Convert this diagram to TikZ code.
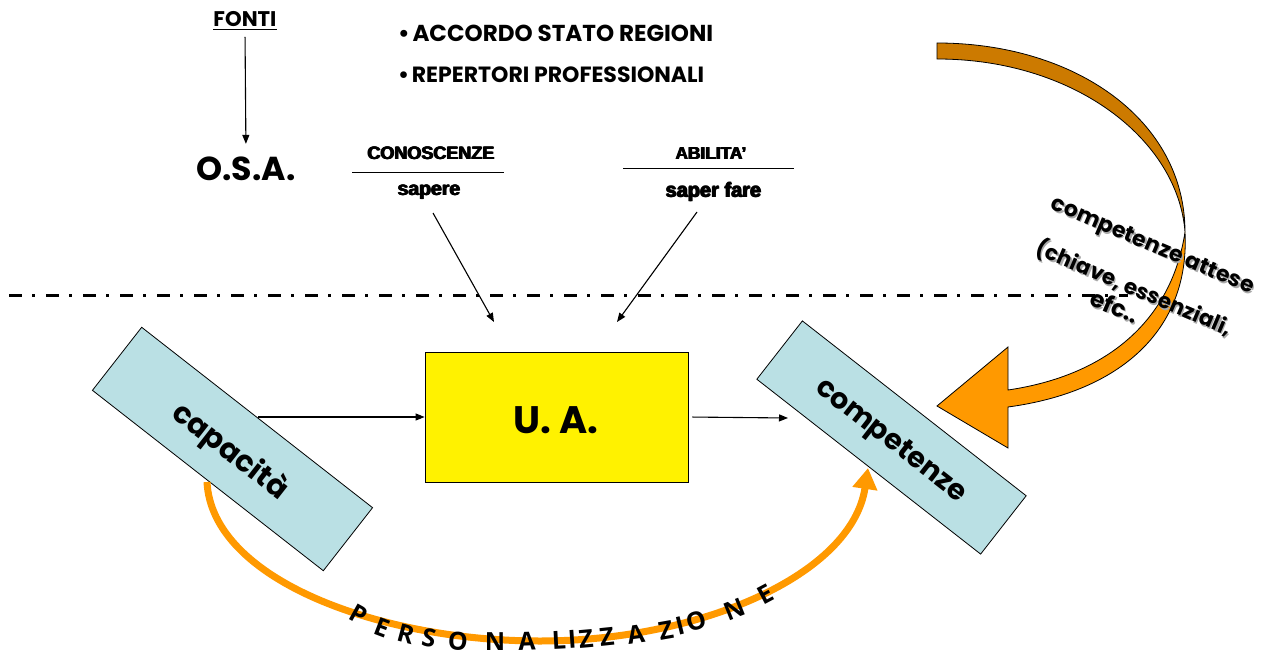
\documentclass[tikz,border=0pt]{standalone}
\usepackage{fontspec}
\setmainfont{Liberation Sans}
\newfontfamily\gothic{Poppins}
\newfontfamily\handf{Open Sans}
\usetikzlibrary{arrows.meta}
\definecolor{boxblue}{RGB}{186,224,228}
\definecolor{orng}{RGB}{255,153,0}
\definecolor{dorng}{RGB}{204,122,0}
\definecolor{shad}{RGB}{170,170,170}
\newcommand\fw[2]{\resizebox{#1pt}{!}{#2}}
\newcommand\heavy[1]{\makebox[0pt][l]{#1}\makebox[0pt][l]{\hspace{0.035em}#1}\makebox[0pt][l]{\raisebox{0.02em}{\hspace{0.035em}#1}}\hspace{0.07em}#1}
\begin{document}
\begin{tikzpicture}[x=1pt,y=-1pt,
  arr/.style={line width=1.1pt,-{Triangle[length=9pt,width=7pt]}},
  tbox/.style={draw=black,line width=0.8pt,fill=boxblue,rotate=-38,inner sep=0pt},
  lbl/.style={inner sep=1pt},
  pl/.style={font=\handf\bfseries\fontsize{25}{25}\selectfont,inner sep=0pt}]
\useasboundingbox (0,0) rectangle (1263,655);
% top texts
\node[lbl] (fonti) at (245,21) {\fw{63}{\gothic\bfseries\underline{FONTI}}};
\node[lbl] (osa) at (246,169) {\fw{99}{\gothic\bfseries O.S.A.}};
\node[lbl,anchor=west] (b1) at (397,33) {\fw{315}{\gothic\bfseries •\hspace{0.12em}ACCORDO STATO REGIONI}};
\node[lbl,anchor=west] (b2) at (397,75) {\fw{306}{\gothic\bfseries •\hspace{0.12em}REPERTORI PROFESSIONALI}};
\node[lbl] (con) at (431,153.5) {\fw{128}{\bfseries\heavy{CONOSCENZE}}};
\node[lbl] (sap) at (429,192) {\fw{64}{\bfseries\heavy{sapere}}};
\node[lbl] (abi) at (711,153.5) {\fw{72}{\bfseries\heavy{ABILITA'}}};
\node[lbl] (sf) at (713.5,192) {\fw{97}{\bfseries\heavy{saper fare}}};
\draw[line width=1pt] (352,173) -- (504,173);
\draw[line width=1pt] (623,169) -- (794,169);
\draw[arr,shorten <=5pt,shorten >=12pt] (fonti.south) -- (osa.north);
% dash-dot line
\draw[line width=3pt,dash pattern=on 13pt off 10pt on 3pt off 11pt] (9,295) -- (1128,295);
% arrows to U.A.
\coordinate (sa) at (433,213);
\coordinate (sb) at (494,322);
\coordinate (fa) at (697,212);
\coordinate (fb) at (617,322);
\draw[arr] (sa) -- (sb);
\draw[arr] (fa) -- (fb);
% boxes
\node[draw=black,line width=0.8pt,fill=yellow,minimum width=263pt,minimum height=130pt,inner sep=0pt] (ua) at (556.5,417) {};
\node at (556,420) {\fw{85}{\gothic\bfseries U. A.}};
\node[tbox,minimum width=293pt,minimum height=80pt] (cap) at (232.5,449) {};
\node[rotate=-38] at (230,452) {\fw{137}{\gothic\bfseries capacità}};
\node[tbox,minimum width=284pt,minimum height=74pt] (comp) at (891.5,437.5) {};
\node[rotate=-38] at (890,442) {\fw{183}{\gothic\bfseries competenze}};
\coordinate (cs) at (258,417);
\coordinate (ce) at (788,418);
\draw[arr] (cs) -- (ua.west);
\draw[arr,shorten <=4pt] (ua.east) -- (ce);
% personalizzazione arc
\coordinate (arcS) at (207,482);
\coordinate (arcM) at (540,641);
\coordinate (arcE) at (868,468);
\draw[orng,line width=7pt,-{Triangle[length=21pt,width=24pt]}] (arcS) .. controls (212,580) and (380,641) .. (arcM) .. controls (700,641) and (852,575) .. (arcE);
\foreach \l/\x/\y/\r in {P/359/614/-29,E/382/628/-21,R/406/634/-15,S/429/638/-10,O/458/641/-4,N/495/642/0,A/527/641/2,L/559/640/3,I/572/639/4,Z/586/639/5,Z/607/637/6,A/636/634/8,Z/666/630/10,I/680/626/14,O/696/621/17,N/735/609/22,E/765/594/28}
  \node[pl,rotate=\r] at (\x,\y) {\l};
% big curved arrow
\draw[fill=dorng,line width=0.8pt] (937,43) .. controls (1075,43) and (1185,120) .. (1185,232) .. controls (1178,140) and (1075,59) .. (937,59) -- cycle;
\draw[fill=orng,line width=0.8pt] (1185,232) .. controls (1190,330) and (1120,392) .. (1008,407) -- (1008,448) -- (937,406) -- (1008,347) -- (1008,390) .. controls (1110,375) and (1172,318) .. (1185,232) -- cycle;
% texts on the big arrow
\foreach \dx/\c in {1.5/shad,0/black}{
  \node[rotate=-23,text=\c,inner sep=0pt] at (1152+\dx,247+\dx) {\fw{218}{\gothic\bfseries competenze attese}};
  \node[rotate=-23,text=\c,inner sep=0pt] at (1134+\dx,288+\dx) {\fw{210}{\gothic\bfseries (chiave, essenziali,}};
  \node[rotate=-23,text=\c,inner sep=0pt] at (1115+\dx,306+\dx) {\fw{50}{\gothic\bfseries efc..}};
}
\end{tikzpicture}
\end{document}
